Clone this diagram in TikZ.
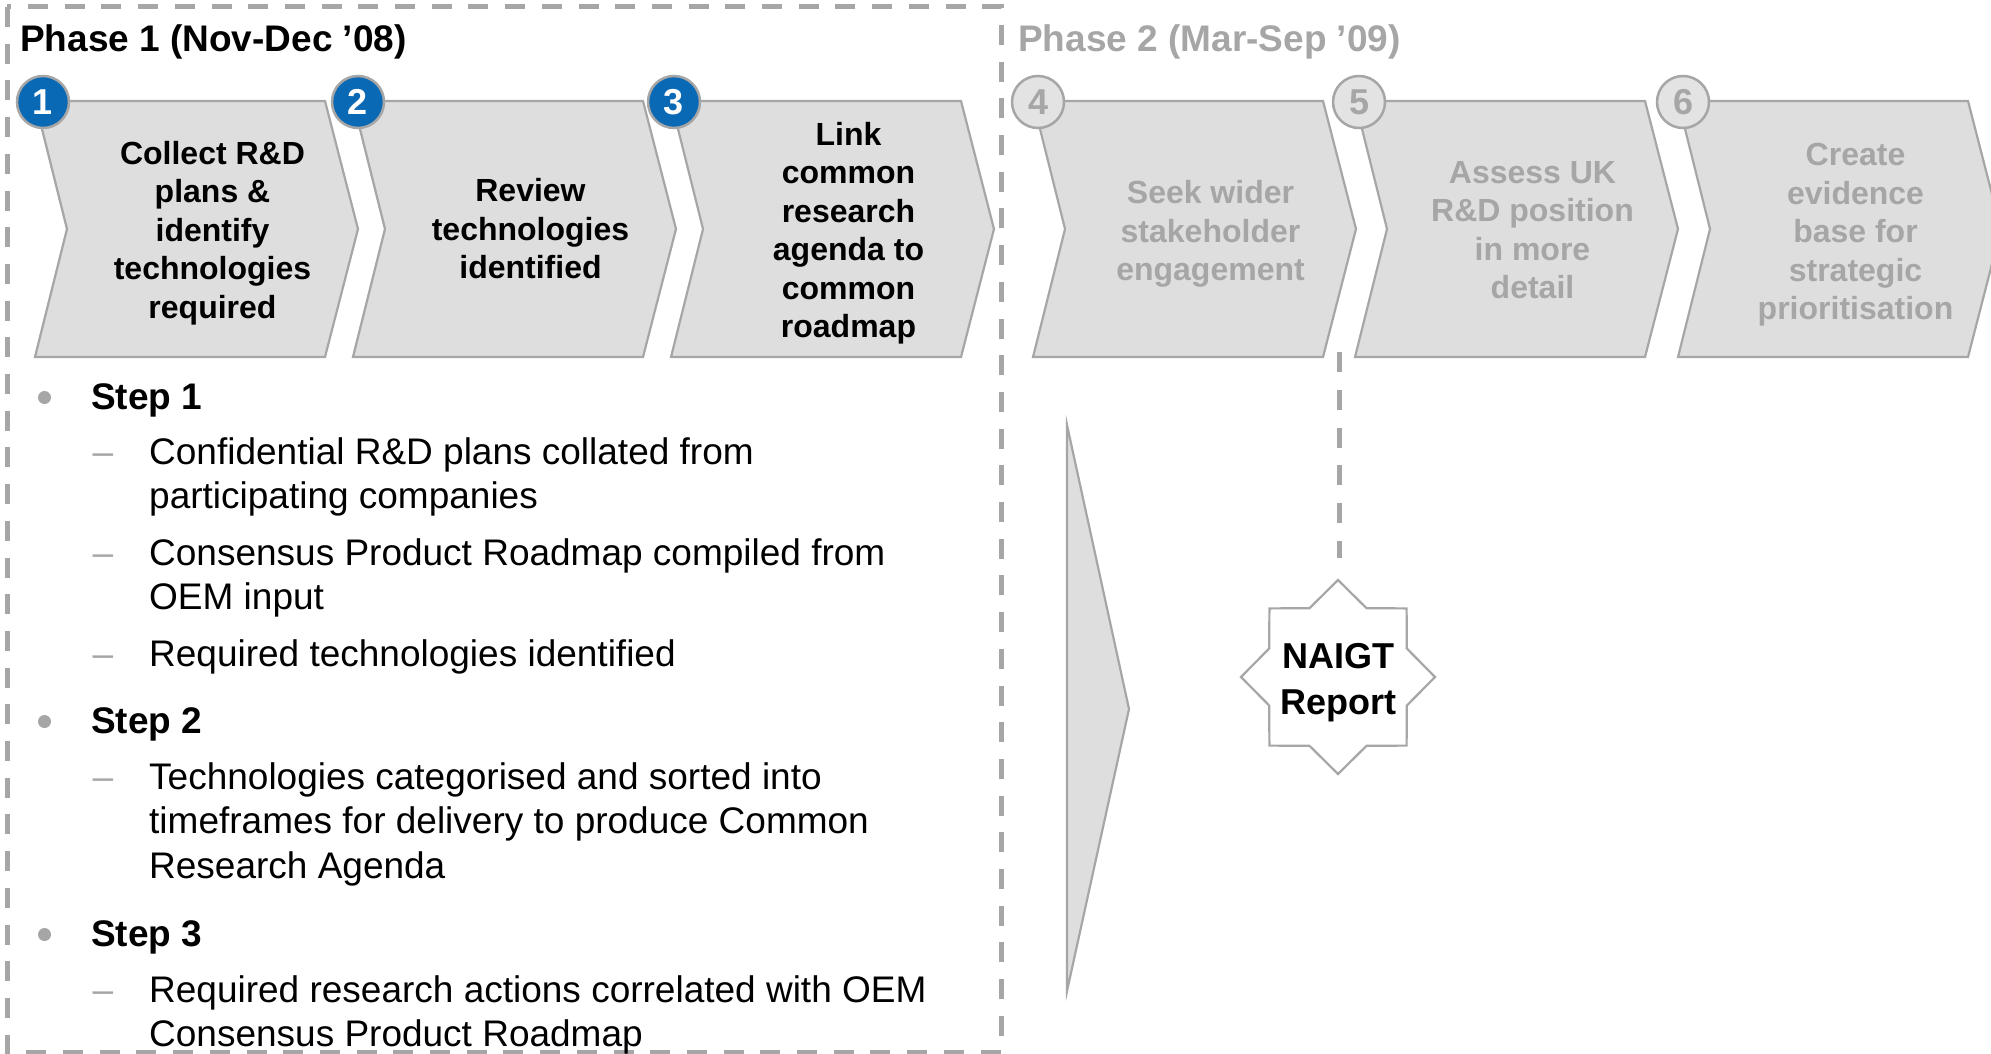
\documentclass[tikz,border=0pt]{standalone}
\usepackage{fontspec}
\setmainfont{Liberation Sans}
\definecolor{linegray}{HTML}{A6A6A6}
\definecolor{chevfill}{HTML}{DEDEDE}
\definecolor{stepblue}{HTML}{0A69B5}
\definecolor{dimfill}{HTML}{E3E3E3}
\definecolor{dimtext}{HTML}{A6A6A6}
\begin{document}
\begin{tikzpicture}[x=1pt,y=-1pt,
  chevron/.style={fill=chevfill,draw=linegray,line width=2.2pt,line join=miter},
  chevtext/.style={align=center,inner sep=0pt,font=\bfseries\fontsize{32}{38.5}\selectfont},
  badge/.style={circle,minimum size=52pt,inner sep=0pt,line width=2.5pt,draw=linegray,
    font=\bfseries\fontsize{36}{36}\selectfont},
  phasetitle/.style={anchor=base west,inner sep=0pt,font=\bfseries\fontsize{37}{44}\selectfont},
  steptitle/.style={anchor=base west,inner sep=0pt,font=\bfseries\fontsize{37}{44.5}\selectfont},
  bodyline/.style={anchor=base west,inner sep=0pt,font=\fontsize{37}{44.5}\selectfont},
  subdash/.style={anchor=base,inner sep=0pt,text=linegray,font=\fontsize{37}{44.5}\selectfont},
  dot/.style={circle,fill=linegray,inner sep=0pt,minimum size=13pt},
  phasebox/.style={draw=linegray,line width=5pt,dash pattern=on 20pt off 16.7pt},
  dashline/.style={draw=linegray,line width=5pt,dash pattern=on 20pt off 17.8pt},
  starshape/.style={fill=white,draw=linegray,line width=2.2pt,line join=miter}
]
\useasboundingbox (0,0) rectangle (1991,1054);
\clip (0,0) rectangle (1991,1054);

% phase 1 frame
\draw[phasebox] (7,7) rectangle (1001,1052);

% phase headings
\node[phasetitle] (phase1) at (20,52) {Phase 1 (Nov-Dec ’08)};
\node[phasetitle,text=dimtext] (phase2) at (1018,52) {Phase 2 (Mar-Sep ’09)};

% phase 1 steps: left x, badge x, number, text centre y, label
\foreach \x/\cx/\n/\ty/\lbl in {
  35/43/1/233/{Collect R\&D\\plans \&\\identify\\technologies\\required},
  353/358/2/229/{Review\\technologies\\identified},
  671/674/3/233/{Link\\common\\research\\agenda to\\common\\roadmap}}{
  \draw[chevron] (\x,101) -- ++(290,0) -- ++(33,128) -- ++(-33,128)
    -- ++(-290,0) -- ++(32,-128) -- cycle;
  \node[chevtext] (chev\n) at (\x+177.5,\ty) {\lbl};
  \node[badge,fill=stepblue,text=white] (badge\n) at (\cx,102) {\n};
}

% phase 2 steps
\foreach \x/\cx/\n/\ty/\lbl in {
  1033/1038/4/234/{Seek wider\\stakeholder\\engagement},
  1355/1359/5/230/{Assess UK\\R\&D position\\in more\\detail},
  1678/1683/6/235/{Create\\evidence\\base for\\strategic\\prioritisation}}{
  \draw[chevron] (\x,101) -- ++(290,0) -- ++(33,128) -- ++(-33,128)
    -- ++(-290,0) -- ++(32,-128) -- cycle;
  \node[chevtext,text=dimtext] (chev\n) at (\x+177.5,\ty) {\lbl};
  \node[badge,fill=dimfill,text=dimtext] (badge\n) at (\cx,102) {\n};
}

% tall arrow segment
\draw[chevron] (1067,425) -- (1129,709) -- (1067,991) -- cycle;

% report star
\coordinate (starc) at (1338,677);
\begin{scope}[shift={(starc)}]
  \draw[starshape] (0:97) -- (22.5:74.5) -- (45:97) -- (67.5:74.5) -- (90:97)
    -- (112.5:74.5) -- (135:97) -- (157.5:74.5) -- (180:97) -- (202.5:74.5)
    -- (225:97) -- (247.5:74.5) -- (270:97) -- (292.5:74.5) -- (315:97)
    -- (337.5:74.5) -- cycle;
\end{scope}
\node[align=center,inner sep=0pt,font=\bfseries\fontsize{36}{46}\selectfont]
  (report) at (1338,683) {NAIGT\\Report};

% link from the phase 2 timeline down to the report
\coordinate (gap45) at (1339,352);
\coordinate (reportfoot) at (1339,558);
\draw[dashline] (gap45) -- (reportfoot);

% step notes
\node[dot] (dot1) at (44.5,397.5) {};
\node[steptitle] (step1) at (91,409) {Step 1};
\node[subdash] (dash1a) at (103,464) {–};
\node[bodyline] (s1a1) at (149,464) {Confidential R\&D plans collated from};
\node[bodyline] (s1a2) at (149,508.5) {participating companies};
\node[subdash] (dash1b) at (103,565) {–};
\node[bodyline] (s1b1) at (149,565) {Consensus Product Roadmap compiled from};
\node[bodyline] (s1b2) at (149,609.5) {OEM input};
\node[subdash] (dash1c) at (103,666) {–};
\node[bodyline] (s1c1) at (149,666) {Required technologies identified};

\node[dot] (dot2) at (44.5,721.5) {};
\node[steptitle] (step2) at (91,733) {Step 2};
\node[subdash] (dash2a) at (103,789) {–};
\node[bodyline] (s2a1) at (149,789) {Technologies categorised and sorted into};
\node[bodyline] (s2a2) at (149,833.5) {timeframes for delivery to produce Common};
\node[bodyline] (s2a3) at (149,878) {Research Agenda};

\node[dot] (dot3) at (44.5,934.5) {};
\node[steptitle] (step3) at (91,946) {Step 3};
\node[subdash] (dash3a) at (103,1002) {–};
\node[bodyline] (s3a1) at (149,1002) {Required research actions correlated with OEM};
\node[bodyline] (s3a2) at (149,1046.5) {Consensus Product Roadmap};
\end{tikzpicture}
\end{document}
